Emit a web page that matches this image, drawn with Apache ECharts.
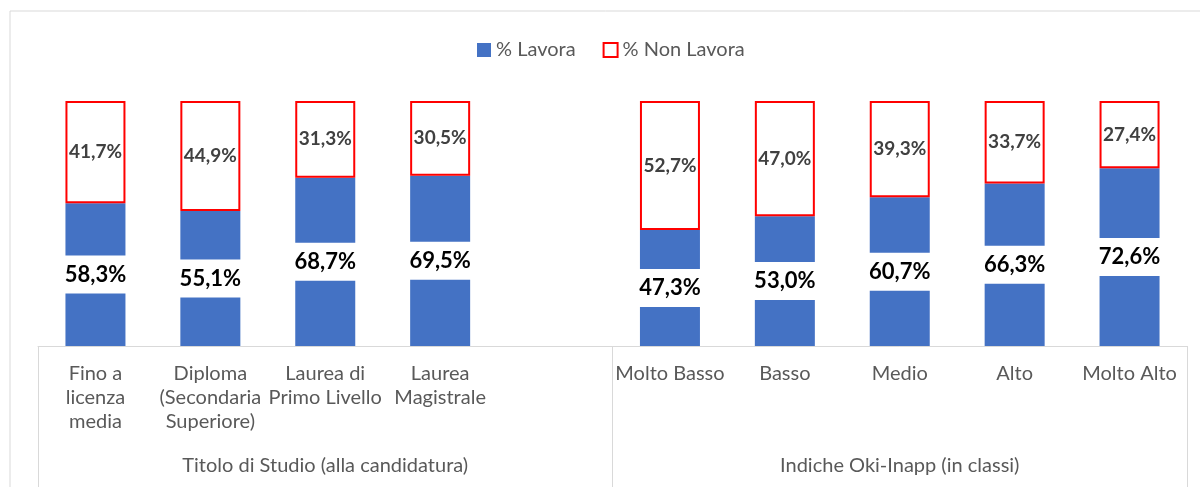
<!DOCTYPE html>
<html>
<head>
<meta charset="utf-8">
<script src="https://cdn.jsdelivr.net/npm/echarts@6/dist/echarts.min.js"></script>
<style>
  html, body { margin: 0; padding: 0; background: #fff; }
  #chart { width: 1200px; height: 487px; }
</style>
</head>
<body>
<div id="chart"></div>
<script>
// categorie (slot vuoto tra i due gruppi)
var categories = [
  "Fino a\nlicenza\nmedia",
  "Diploma\n(Secondaria\nSuperiore)",
  "Laurea di\nPrimo Livello",
  "Laurea\nMagistrale",
  "",
  "Molto Basso",
  "Basso",
  "Medio",
  "Alto",
  "Molto Alto"
];
var groups = ["Titolo di Studio (alla candidatura)", "Indiche Oki-Inapp (in classi)"];
var lavora = [58.3, 55.1, 68.7, 69.5, "-", 47.3, 53.0, 60.7, 66.3, 72.6];
var nonLavora = [41.7, 44.9, 31.3, 30.5, "-", 52.7, 47.0, 39.3, 33.7, 27.4];

var FONT = "Lato";
var fmt = function (p) {
  return p.value.toFixed(1).replace(".", ",") + "%";
};

var chart = echarts.init(document.getElementById("chart"));
chart.setOption({
  animation: false,
  textStyle: { fontFamily: FONT },
  // cornice grigia dell'area grafico
  graphic: [
    {
      type: "rect",
      shape: { x: 10, y: 11, width: 1220, height: 500 },
      style: { fill: "none", stroke: "#d9d9d9", lineWidth: 1 },
      silent: true
    }
  ],
  legend: {
    left: 472,
    top: 35,
    itemWidth: 14,
    itemHeight: 14,
    itemGap: 27,
    icon: "rect",
    textStyle: { fontFamily: FONT, fontSize: 20, color: "#595959" },
    data: ["% Lavora", "% Non Lavora"]
  },
  grid: { left: 38, right: 13, top: 101, bottom: 141 },
  xAxis: [
    {
      type: "category",
      data: categories,
      axisLine: { lineStyle: { color: "#d9d9d9", width: 1 } },
      axisTick: { show: false },
      axisLabel: {
        interval: 0,
        margin: 16,
        fontFamily: FONT,
        fontSize: 20,
        lineHeight: 24,
        color: "#595959"
      }
    },
    {
      type: "category",
      data: groups,
      position: "bottom",
      axisLine: { show: false },
      axisTick: { show: true, length: 145, lineStyle: { color: "#d9d9d9" } },
      axisLabel: {
        interval: 0,
        margin: 110,
        fontFamily: FONT,
        fontSize: 20,
        color: "#595959"
      }
    }
  ],
  yAxis: { type: "value", min: 0, max: 100, show: false },
  series: [
    {
      name: "% Lavora",
      type: "bar",
      stack: "tot",
      barWidth: 60,
      data: lavora,
      itemStyle: { color: "#4472c4" },
      label: {
        show: true,
        position: "inside",
        formatter: fmt,
        fontFamily: FONT,
        fontWeight: "bold",
        fontSize: 22,
        color: "#000",
        backgroundColor: "#fff",
        width: 62,
        align: "center",
        lineHeight: 22,
        padding: [8, 0]
      }
    },
    {
      name: "% Non Lavora",
      type: "bar",
      stack: "tot",
      barWidth: 60,
      data: nonLavora,
      itemStyle: { color: "#fff", borderColor: "#ff0000", borderWidth: 2 },
      label: {
        show: true,
        position: "inside",
        formatter: fmt,
        fontFamily: FONT,
        fontWeight: "bold",
        fontSize: 19,
        color: "#404040"
      }
    }
  ]
});
</script>
</body>
</html>
